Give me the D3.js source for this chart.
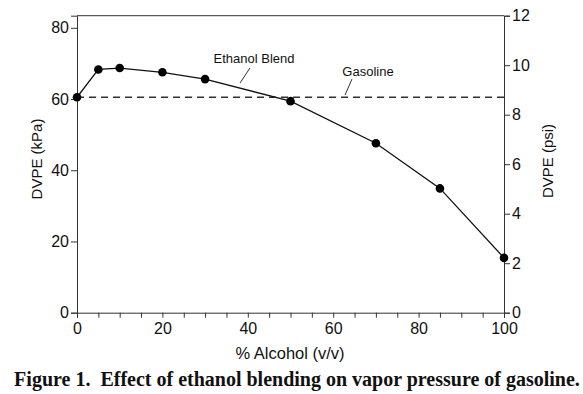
<html>
<head>
<script src="https://cdn.jsdelivr.net/npm/d3@7"></script>
<style>
  body { margin: 0; background: #fff; }
  text { font-family: "Liberation Sans", Arial, sans-serif; fill: #111; }
</style>
</head>
<body>
<div id="chart"></div>
<script>
(function(){
  // data
  var alcohol = [0, 5, 10, 20, 30, 50, 70, 85, 100];
  var dvpe = [60.5, 68.3, 68.7, 67.5, 65.6, 59.4, 47.6, 34.9, 15.4];
  var gasoline = 60.5;
  var xTicks = [0, 20, 40, 60, 80, 100];
  var kpaTicks = [0, 20, 40, 60, 80];
  var psiTicks = [0, 2, 4, 6, 8, 10, 12];

  var width = 583, height = 394;
  var left = 77, right = 504, top = 15.7, bottom = 312.7;

  var svg = d3.select("#chart").append("svg")
    .attr("width", width).attr("height", height);

  var x = d3.scaleLinear().domain([0, 100]).range([left, right]);
  var y = d3.scaleLinear().domain([0, 83.4]).range([bottom, top]);
  var yPsi = d3.scaleLinear().domain([0, 12]).range([bottom, top]);

  // frame top
  svg.append("line")
    .attr("x1", left).attr("x2", right).attr("y1", top).attr("y2", top)
    .attr("stroke", "#333").attr("stroke-width", 1);

  var xAxis = svg.append("g")
    .attr("transform", "translate(0," + bottom + ")")
    .call(d3.axisBottom(x).tickValues(d3.range(0, 101, 5)).tickSize(5)
      .tickFormat(function(d){ return xTicks.indexOf(d) >= 0 ? d : ""; }));

  var yAxis = svg.append("g")
    .attr("transform", "translate(" + left + ",0)")
    .call(d3.axisLeft(y).tickValues(kpaTicks).tickSize(6).tickPadding(2));

  var yAxis2 = svg.append("g")
    .attr("transform", "translate(" + right + ",0)")
    .call(d3.axisRight(yPsi).tickValues(psiTicks).tickSize(6).tickPadding(2));

  [xAxis, yAxis, yAxis2].forEach(function(g){
    g.select(".domain").attr("stroke", "#333");
    g.selectAll(".tick line").attr("stroke", "#333");
    g.selectAll(".tick text").style("font-size", "16px")
      .style("font-family", "Liberation Sans, Arial, sans-serif").attr("fill", "#111");
  });
  xAxis.selectAll(".tick text").attr("dy", "0.85em");

  // gasoline reference line
  svg.append("line")
    .attr("x1", x(0)).attr("x2", x(100))
    .attr("y1", y(gasoline)).attr("y2", y(gasoline))
    .attr("stroke", "#333").attr("stroke-width", 1.5)
    .attr("stroke-dasharray", "7,5");

  var pts = alcohol.map(function(a, i){ return [a, dvpe[i]]; });

  svg.append("path")
    .datum(pts)
    .attr("fill", "none").attr("stroke", "#111").attr("stroke-width", 1.3)
    .attr("d", d3.line().x(function(d){ return x(d[0]); }).y(function(d){ return y(d[1]); }));

  svg.selectAll("circle.pt").data(pts).enter().append("circle")
    .attr("class", "pt")
    .attr("cx", function(d){ return x(d[0]); })
    .attr("cy", function(d){ return y(d[1]); })
    .attr("r", 4.3).attr("fill", "#000");

  // annotations
  svg.append("text").attr("x", 254).attr("y", 63).attr("text-anchor", "middle")
    .style("font-size", "13px").text("Ethanol Blend");
  svg.append("line").attr("x1", 250).attr("y1", 68).attr("x2", 240).attr("y2", 83)
    .attr("stroke", "#333").attr("stroke-width", 1);

  svg.append("text").attr("x", 368).attr("y", 76).attr("text-anchor", "middle")
    .style("font-size", "13px").text("Gasoline");
  svg.append("line").attr("x1", 352).attr("y1", 79).attr("x2", 345).attr("y2", 95)
    .attr("stroke", "#333").attr("stroke-width", 1);

  // axis titles
  svg.append("text").attr("transform", "translate(42,159) rotate(-90)")
    .attr("text-anchor", "middle").style("font-size", "15px").text("DVPE (kPa)");
  svg.append("text").attr("transform", "translate(553,161) rotate(-90)")
    .attr("text-anchor", "middle").style("font-size", "15px").text("DVPE (psi)");
  svg.append("text").attr("x", 290).attr("y", 359)
    .attr("text-anchor", "middle").style("font-size", "16.5px").text("% Alcohol (v/v)");

  svg.append("text").attr("x", 297).attr("y", 386)
    .attr("text-anchor", "middle")
    .style("font-family", "Liberation Serif, Times New Roman, serif")
    .style("font-weight", "bold").style("font-size", "20px")
    .attr("xml:space", "preserve")
    .text("Figure 1.  Effect of ethanol blending on vapor pressure of gasoline.");
})();
</script>
</body>
</html>
